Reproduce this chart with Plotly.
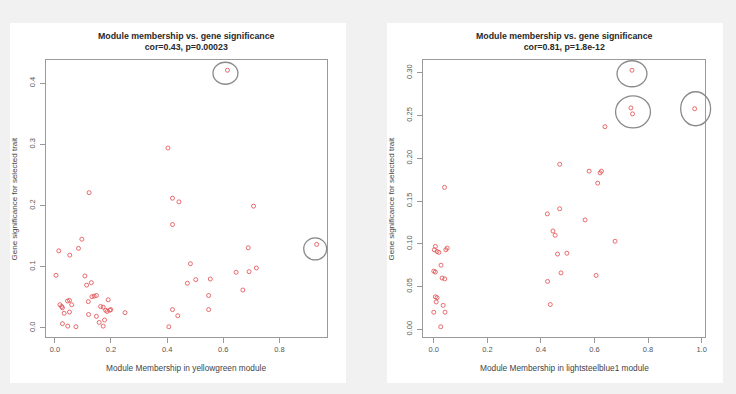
import plotly.graph_objects as go

# ---------------- data ----------------
left_mm = [0.419, 0.096, 0.084, 0.014, 0.053, 0.004, 0.107, 0.130, 0.113, 0.689,
           0.933, 0.483, 0.646, 0.692, 0.718, 0.472, 0.502, 0.554, 0.670, 0.548,
           0.548, 0.419, 0.438, 0.406, 0.132, 0.140, 0.148, 0.119, 0.190, 0.018,
           0.024, 0.027, 0.045, 0.052, 0.060, 0.033, 0.052, 0.120, 0.148, 0.163,
           0.172, 0.181, 0.186, 0.196, 0.199, 0.250, 0.177, 0.158, 0.172, 0.027,
           0.046, 0.075, 0.403, 0.122, 0.419, 0.442, 0.708, 0.615]
left_gs = [0.169, 0.145, 0.130, 0.126, 0.119, 0.086, 0.085, 0.074, 0.070, 0.131,
           0.1365, 0.105, 0.091, 0.092, 0.098, 0.073, 0.079, 0.080, 0.062, 0.053,
           0.030, 0.030, 0.020, 0.002, 0.051, 0.052, 0.053, 0.043, 0.046, 0.038,
           0.035, 0.033, 0.044, 0.045, 0.038, 0.024, 0.026, 0.022, 0.019, 0.035,
           0.034, 0.029, 0.027, 0.029, 0.030, 0.025, 0.013, 0.009, 0.003, 0.007,
           0.003, 0.002, 0.294, 0.221, 0.212, 0.206, 0.199, 0.421]

right_mm = [0.445, 0.453, 0.677, 0.006, 0.050, 0.045, 0.002, 0.012, 0.019, 0.497,
            0.462, 0.027, 0.000, 0.006, 0.475, 0.606, 0.031, 0.041, 0.425, 0.006,
            0.012, 0.009, 0.035, 0.435, 0.000, 0.042, 0.026, 0.742, 0.639, 0.470,
            0.580, 0.621, 0.626, 0.612, 0.040, 0.424, 0.470, 0.565, 0.740, 0.736,
            0.974]
right_gs = [0.115, 0.110, 0.103, 0.097, 0.095, 0.093, 0.093, 0.091, 0.090, 0.089,
            0.088, 0.075, 0.068, 0.067, 0.066, 0.063, 0.060, 0.059, 0.056, 0.038,
            0.037, 0.032, 0.028, 0.029, 0.020, 0.020, 0.003, 0.252, 0.237, 0.193,
            0.185, 0.183, 0.185, 0.171, 0.166, 0.135, 0.141, 0.128, 0.303, 0.259,
            0.258]

left_title = "Module membership vs. gene significance<br>cor=0.43, p=0.00023"
right_title = "Module membership vs. gene significance<br>cor=0.81, p=1.8e-12"
left_xlabel = "Module Membership in yellowgreen module"
right_xlabel = "Module Membership in lightsteelblue1 module"
ylabel = "Gene significance for selected trait"

left_xticks = [0, 0.2, 0.4, 0.6, 0.8]
left_yticks = [0.0, 0.1, 0.2, 0.3, 0.4]
right_xticks = [0, 0.2, 0.4, 0.6, 0.8, 1.0]
right_yticks = [0.0, 0.05, 0.10, 0.15, 0.20, 0.25, 0.30]

# highlighted points (index into series) for hand-drawn circles
left_marked = [57, 10]
right_marked = [38, 27, 40]

# ---------------- layout helpers ----------------
W, H = 736, 394
def px(x):
    return x / W
def py(y):
    return 1 - y / H

FONT = "Liberation Sans, Arial, sans-serif"
PT_COLOR = "#e2494b"
FRAME = "#9a9a9a"

def rng(vals):
    lo, hi = min(vals), max(vals)
    d = (hi - lo) * 0.04
    return [lo - d, hi + d]

top, bottom = 60, 337
L_XDOM = [45.7, 328]
R_XDOM = [424.5, 707]

fig = go.Figure()
for xs, ys, xa, ya in [(left_mm, left_gs, "x", "y"), (right_mm, right_gs, "x2", "y2")]:
    fig.add_trace(go.Scatter(x=xs, y=ys, mode="markers", xaxis=xa, yaxis=ya,
                             marker=dict(symbol="circle-open", size=4, color=PT_COLOR,
                                         line=dict(width=0.8, color=PT_COLOR)),
                             showlegend=False))

axis_common = dict(showline=True, mirror=True, linecolor=FRAME, linewidth=1,
                   showgrid=False, zeroline=False, ticks="outside", ticklen=5,
                   tickcolor=FRAME, tickwidth=1,
                   tickfont=dict(family=FONT, size=7.5, color="#555"))

fig.update_layout(
    width=W, height=H,
    margin=dict(l=0, r=0, t=0, b=0),
    paper_bgcolor="#f1f1f1",
    plot_bgcolor="white",
    xaxis=dict(domain=[px(L_XDOM[0]), px(L_XDOM[1])], range=rng(left_mm), tickvals=left_xticks,
               tickformat=".1f", anchor="y", **axis_common),
    yaxis=dict(domain=[py(bottom), py(top)], range=rng(left_gs), tickvals=left_yticks,
               tickformat=".1f", tickangle=-90, anchor="x", ticklabelstandoff=2,
               **axis_common),
    xaxis2=dict(domain=[px(R_XDOM[0]), px(R_XDOM[1])], range=rng(right_mm), tickvals=right_xticks,
                tickformat=".1f", anchor="y2", **axis_common),
    yaxis2=dict(domain=[py(bottom), py(top)], range=rng(right_gs), tickvals=right_yticks,
                tickformat=".2f", tickangle=-90, anchor="x2", ticklabelstandoff=2,
                **axis_common),
)

shapes = []
# white panels
for x0, x1 in [(10, 347), (388, 725)]:
    shapes.append(dict(type="rect", xref="paper", yref="paper", x0=px(x0), x1=px(x1),
                       y0=py(383), y1=py(23), fillcolor="white", line=dict(width=0),
                       layer="below"))

def circ(xdom, xr, yr, x, y, dx, dy, w, h):
    # position of the data point in pixels, via the axis ranges/domains
    cx = xdom[0] + (x - xr[0]) / (xr[1] - xr[0]) * (xdom[1] - xdom[0]) + dx
    cy = bottom - (y - yr[0]) / (yr[1] - yr[0]) * (bottom - top) + dy
    return dict(type="circle", xref="paper", yref="paper",
                x0=px(cx - w / 2), x1=px(cx + w / 2),
                y0=py(cy + h / 2), y1=py(cy - h / 2),
                line=dict(color="#8a8a8a", width=1.3), layer="above")

lx, ly = rng(left_mm), rng(left_gs)
rx, ry = rng(right_mm), rng(right_gs)
i = left_marked
shapes.append(circ(L_XDOM, lx, ly, left_mm[i[0]], left_gs[i[0]], -2, 3, 25, 22))
shapes.append(circ(L_XDOM, lx, ly, left_mm[i[1]], left_gs[i[1]], -1.5, 4.5, 23, 22))
j = right_marked
shapes.append(circ(R_XDOM, rx, ry, right_mm[j[0]], right_gs[j[0]], 0, 3.5, 30, 26))
shapes.append(circ(R_XDOM, rx, ry, right_mm[j[1]], right_gs[j[1]], 0.5, -2, 35, 32))
shapes.append(circ(R_XDOM, rx, ry, right_mm[j[2]], right_gs[j[2]], 1, 0, 30, 34))
fig.update_layout(shapes=shapes)

ann = []
for cx, title, xlab, ylx in [((L_XDOM[0] + L_XDOM[1]) / 2, left_title, left_xlabel, 15),
                             ((R_XDOM[0] + R_XDOM[1]) / 2, right_title, right_xlabel, 393)]:
    ann.append(dict(xref="paper", yref="paper", x=px(cx), y=py(42),
                    text="<b>" + title.replace("<br>", "</b><br><b>") + "</b>",
                    showarrow=False, xanchor="center", yanchor="middle",
                    font=dict(family=FONT, size=8.8, color="#2a2a2a"), align="center"))
    ann.append(dict(xref="paper", yref="paper", x=px(cx), y=py(368), text=xlab,
                    showarrow=False, xanchor="center", yanchor="middle",
                    font=dict(family=FONT, size=8.3, color="#444")))
    ann.append(dict(xref="paper", yref="paper", x=px(ylx), y=py((top + bottom) / 2),
                    text=ylabel, textangle=-90, showarrow=False,
                    xanchor="center", yanchor="middle",
                    font=dict(family=FONT, size=8, color="#444")))
fig.update_layout(annotations=ann)

fig.write_html("out.html", config={"displayModeBar": False},
               post_script="document.body.style.margin='0';document.body.style.background='#f1f1f1';")
